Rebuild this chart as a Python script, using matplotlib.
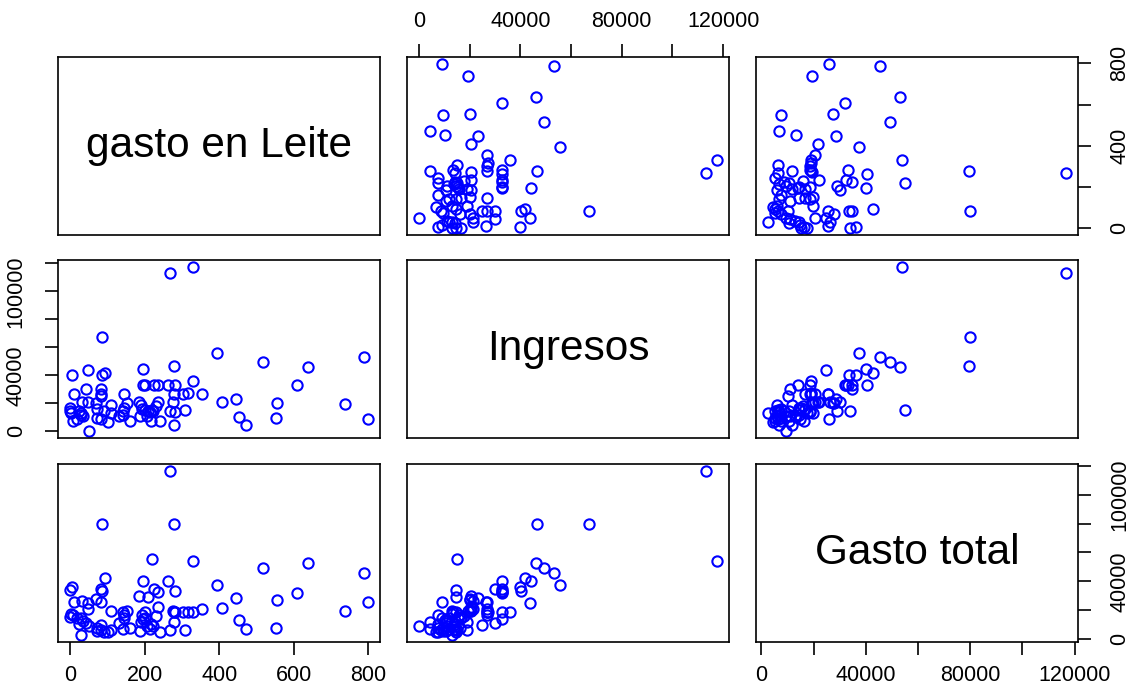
import matplotlib.pyplot as plt

plt.rcParams['font.family'] = ['Liberation Sans', 'DejaVu Sans']

# observaciones: gasto en leite, ingresos y gasto total de cada hogar
leite = [0, 0, 6, 4, 7, 10, 18, 24, 29, 31, 32, 34, 44, 49, 49, 51, 71, 72, 73,
         83, 83, 83, 84, 85, 86, 92, 95, 102, 110, 110, 132, 141, 142, 146, 146,
         154, 162, 185, 187, 190, 192, 195, 196, 201, 201, 207, 208, 214, 218,
         221, 223, 226, 232, 236, 236, 242, 262, 268, 269, 275, 278, 279, 280,
         281, 281, 303, 309, 317, 330, 330, 354, 395, 407, 446, 454, 471, 517,
         551, 554, 608, 638, 737, 789, 799]
ingresos = [16400, 14500, 39900, 13100, 7600, 26600, 9000, 14300, 13100, 12000,
            21200, 11200, 30200, 43900, 21200, 0, 20200, 16200, 9500, 30200,
            26900, 25000, 8600, 40400, 67200, 14500, 41800, 6900, 13100, 19000,
            10700, 12000, 14500, 16400, 26900, 20000, 7400, 20700, 10700, 19000,
            15900, 44200, 32800, 32800, 15400, 11200, 14800, 14000, 7600, 15000,
            14300, 32800, 17800, 32800, 20700, 7600, 32800, 14300, 113300, 20700,
            4500, 26900, 46500, 32800, 13600, 26900, 15200, 27300, 36000, 117600,
            26900, 55800, 20700, 23300, 10200, 4300, 49200, 9300, 20200, 32800,
            46300, 19200, 53400, 9000]
gasto_total = [15000, 34000, 36300, 17600, 16400, 25500, 14600, 10400, 2500,
               14400, 26200, 12700, 11000, 24800, 20600, 9300, 27800, 7600, 5300,
               34700, 25500, 10000, 6500, 33600, 79900, 5100, 42600, 4600, 19700,
               6000, 10900, 6900, 18500, 14400, 16700, 19700, 7400, 30100, 5800,
               11600, 16700, 40000, 13900, 18500, 14400, 9300, 28900, 6900, 10400,
               55100, 8800, 34700, 16000, 32400, 22000, 5100, 40500, 6300, 116700,
               19400, 11600, 19000, 79400, 33100, 18500, 18500, 6300, 18900,
               18900, 53900, 20600, 37500, 21800, 28700, 13200, 6700, 49100, 7400,
               27300, 31900, 53000, 19400, 45400, 25900]

nombres = ['gasto en Leite', 'Ingresos', 'Gasto total']
variables = [leite, ingresos, gasto_total]

marcas = [[0, 200, 400, 600, 800],
          [0, 20000, 40000, 60000, 80000, 100000, 120000],
          [0, 20000, 40000, 60000, 80000, 100000, 120000]]
# etiquetas visibles en cada eje (horizontal / vertical)
etiq_x = [[0, 200, 400, 600, 800],
          [0, 40000, 80000, 120000],
          [0, 40000, 80000, 120000]]
etiq_y = [[0, 400, 800],
          [0, 40000, 100000],
          [0, 40000, 100000]]


def limites(v):
    r = max(v) - min(v)
    return min(v) - 0.04 * r, max(v) + 0.04 * r


def textos(ticks, visibles):
    return [str(t) if t in visibles else '' for t in ticks]


W, H = 1128, 698
fig = plt.figure(figsize=(W / 100, H / 100), dpi=100)

izq = [58, 407, 756]
arriba = [57, 260, 464]
ancho, alto = 322, 178

for i in range(3):
    for j in range(3):
        ax = fig.add_axes([izq[j] / W, 1 - (arriba[i] + alto) / H, ancho / W, alto / H])
        for s in ax.spines.values():
            s.set_linewidth(1.2)
        ax.set_xlim(limites(variables[j]))
        ax.set_ylim(limites(variables[i]))
        ax.tick_params(which='both', bottom=False, top=False, left=False, right=False,
                       labelbottom=False, labeltop=False, labelleft=False, labelright=False)

        if i == j:
            ax.text(0.5, 0.5, nombres[i], transform=ax.transAxes, ha='center',
                    va='center', fontsize=30.5)
        else:
            ax.plot(variables[j], variables[i], 'o', ms=7.4, mfc='none',
                    mec='blue', mew=1.5)

        # ejes alternados como en una matriz de dispersión
        ax.set_xticks(marcas[j])
        ax.set_xticklabels(textos(marcas[j], etiq_x[j]))
        ax.set_yticks(marcas[i])
        ax.set_yticklabels(textos(marcas[i], etiq_y[i]), rotation=90, va='center')
        opts = dict(direction='out', length=9.5, width=1.2, labelsize=15.5)
        if i == 2 and j != 1:
            ax.tick_params(axis='x', bottom=True, labelbottom=True, pad=7, **opts)
        if i == 0 and j == 1:
            ax.tick_params(axis='x', top=True, labeltop=True, pad=8.5, **opts)
        if j == 2 and i != 1:
            ax.tick_params(axis='y', right=True, labelright=True, pad=13, **opts)
        if j == 0 and i == 1:
            ax.tick_params(axis='y', left=True, labelleft=True, pad=13, **opts)

fig.savefig('out.png', dpi=100)
